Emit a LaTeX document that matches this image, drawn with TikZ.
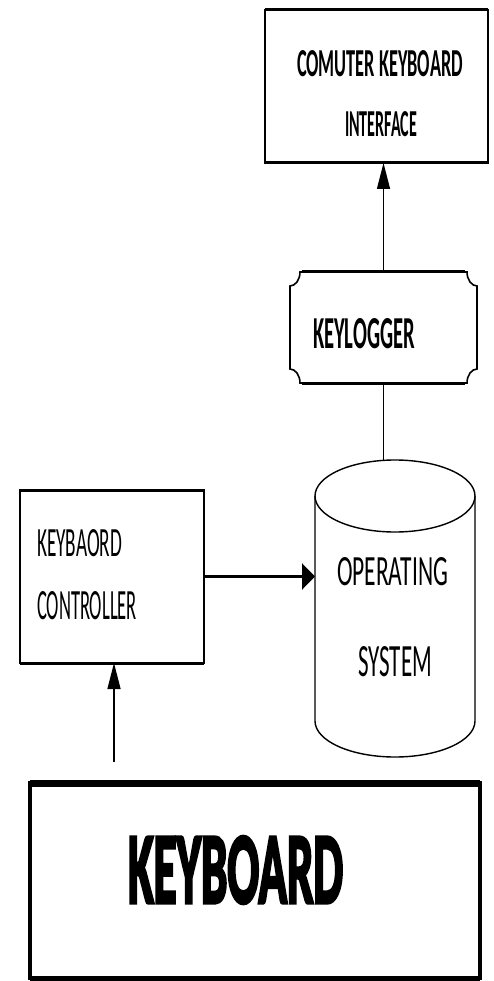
\documentclass[tikz,border=0pt]{standalone}
\usepackage{fontspec}
\usepackage{graphicx}
\usetikzlibrary{arrows.meta}
\newfontfamily\calfont{Carlito}
\newfontfamily\heavy[BoldFeatures={FakeBold=4}]{Carlito}
\newcommand\fitt[3]{\resizebox{#1pt}{#2pt}{\calfont #3}}
\newcommand\fittb[3]{\resizebox{#1pt}{#2pt}{\calfont\bfseries #3}}
\begin{document}
\begin{tikzpicture}[x=1pt,y=-1pt,
  boxst/.style={draw=black,line width=1.6pt,inner sep=0pt,outer sep=0pt,fill=white},
  ghost/.style={inner sep=0pt,outer sep=0pt},
  txt/.style={inner sep=0pt,outer sep=0pt},
  conn/.style={line width=1.4pt},
  arrV/.style={conn,-{Triangle[length=26pt,width=13pt]}},
  arrH/.style={line width=2.4pt,-{Triangle[length=13pt,width=26pt]}}]
\useasboundingbox (0,0) rectangle (493,981);
% computer keyboard interface
\node[boxst,minimum width=223pt,minimum height=153pt] (ci) at (376.5,86.5) {};
\draw[line width=3pt] (ci.north west) -- (ci.north east);
\draw[line width=3pt] (ci.south west) -- (ci.south east);
\node[txt] (ci1) at (380,63.5) {\fittb{166}{26}{COMUTER KEYBOARD}};
\node[txt] (ci2) at (381,124.5) {\fittb{72}{25}{INTERFACE}};
% keylogger
\node[ghost,minimum width=187pt,minimum height=111pt] (kl) at (383.5,327.5) {};
\draw[line width=1.6pt,fill=white] (300,272) -- (467,272)
  .. controls (467,279.7) and (471.5,286) .. (477,286) -- (477,369)
  .. controls (471.5,369) and (467,375.3) .. (467,383) -- (300,383)
  .. controls (300,375.3) and (295.5,369) .. (290,369) -- (290,286)
  .. controls (295.5,286) and (300,279.7) .. (300,272) -- cycle;
\draw[line width=3pt] (302,272) -- (465,272);
\draw[line width=3pt] (302,383) -- (465,383);
\node[txt] (kl1) at (364,334) {\fittb{102}{30}{KEYLOGGER}};
% operating system cylinder
\node[ghost,minimum width=160pt,minimum height=297pt] (os) at (395,608.5) {};
\draw[line width=1.4pt,fill=white] (315,496) -- (315,721)
  arc[start angle=180,end angle=0,x radius=80,y radius=36] -- (475,496);
\draw[line width=1.4pt,fill=white] (395,496) ellipse[x radius=80,y radius=36];
\node[txt] (os1) at (392.5,571.5) {\fitt{111}{28}{OPERATING}};
\node[txt] (os2) at (395,662) {\fitt{74}{30}{SYSTEM}};
% keyboard controller
\node[boxst,minimum width=184pt,minimum height=173pt] (kc) at (112,576.5) {};
\draw[line width=3pt] (kc.north west) -- (kc.north east);
\draw[line width=3pt] (kc.south west) -- (kc.south east);
\node[txt,anchor=west] (kc1) at (37,543.5) {\fitt{85}{27}{KEYBAORD}};
\node[txt,anchor=west] (kc2) at (37,606) {\fitt{100}{28}{CONTROLLER}};
% keyboard
\node[draw=black,line width=3.5pt,inner sep=0pt,outer sep=0pt,minimum width=450pt,minimum height=195pt] (kb) at (255,880.5) {};
\draw[line width=7pt] (kb.north west) -- (kb.north east);
\draw[line width=5pt] (kb.south west) -- (kb.south east);
\node[txt] (kb1) at (235.5,870) {\resizebox{215pt}{66pt}{\heavy\bfseries KEYBOARD}};
% connectors
\coordinate (kbin) at (114,762);
\draw[arrV] (kbin) -- (kbin |- kc.south);
\draw[arrH] (kc.east) -- (kc.east -| os.west);
\draw[conn] (kl.south) -- (kl.south |- os.north);
\draw[arrV] (kl.north) -- (kl.north |- ci.south);
\end{tikzpicture}
\end{document}
